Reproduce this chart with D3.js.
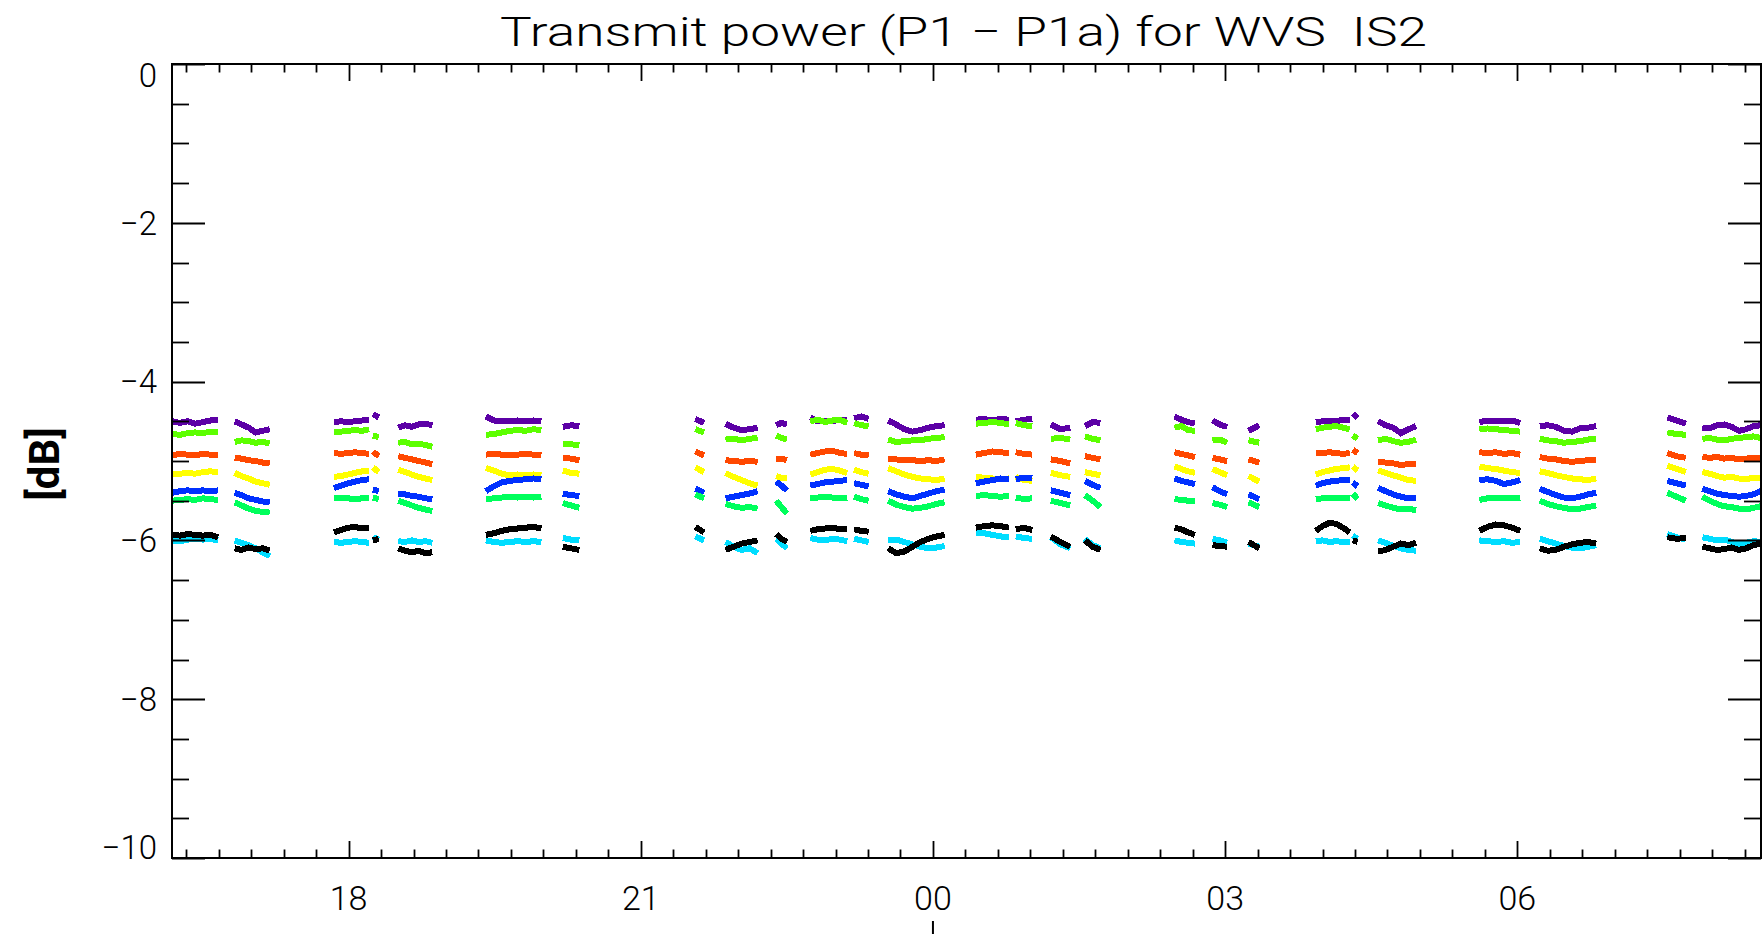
<!DOCTYPE html>
<html>
<head>
<meta charset="utf-8">
<script src="https://cdn.jsdelivr.net/npm/d3@7"></script>
<style>
  html, body { margin: 0; padding: 0; background: #fff; }
  svg { display: block; }
  text { font-family: Roboto, "Liberation Sans", "DejaVu Sans", sans-serif; fill: #000; }
</style>
</head>
<body>
<script>
// Time axis in hours after midnight of the first day (24 = 00 next day)
const timeDomain = [16.187, 32.502];
const majorTicks = [18, 21, 24, 27, 30];
const tickLabels = ["18", "21", "00", "03", "06"];
const yTicks = [0, -2, -4, -6, -8, -10];
const yTickLabels = ["0", "−2", "−4", "−6", "−8", "−10"];
const dayMarks = [24];

// Measurement passes [start, end] in hours
const passes = [
  [16.19, 16.66], [16.83, 17.19], [17.85, 18.21], [18.25, 18.31], [18.51, 18.86],
  [19.41, 19.98], [20.20, 20.37], [21.56, 21.65], [21.87, 22.20], [22.39, 22.50],
  [22.74, 23.12], [23.19, 23.34], [23.54, 24.12], [24.44, 24.78], [24.85, 25.02],
  [25.21, 25.41], [25.56, 25.72], [26.48, 26.69], [26.87, 27.02], [27.24, 27.35],
  [27.93, 28.28], [28.31, 28.36], [28.57, 28.96], [29.61, 30.03], [30.23, 30.81],
  [31.54, 31.73], [31.90, 32.50]
];

// Transmit power differences [dB], one list per pass
const purpleLevels = [
  [-4.50,-4.52,-4.50,-4.53,-4.51,-4.49,-4.48], [-4.50,-4.54,-4.58,-4.64,-4.62,-4.60],
  [-4.51,-4.50,-4.51,-4.50,-4.49,-4.48], [-4.41,-4.45], [-4.58,-4.55,-4.57,-4.54,-4.53,-4.55],
  [-4.44,-4.49,-4.50,-4.50,-4.49,-4.50,-4.49,-4.50], [-4.57,-4.55,-4.56], [-4.47,-4.52],
  [-4.53,-4.58,-4.61,-4.60,-4.58], [-4.55,-4.52,-4.54], [-4.45,-4.50,-4.49,-4.50,-4.48,-4.49],
  [-4.46,-4.44,-4.47], [-4.49,-4.54,-4.60,-4.63,-4.61,-4.58,-4.56,-4.55],
  [-4.48,-4.47,-4.49,-4.47,-4.48], [-4.50,-4.48,-4.47], [-4.54,-4.60,-4.58], [-4.56,-4.51,-4.52],
  [-4.44,-4.48,-4.51,-4.53], [-4.49,-4.54,-4.57], [-4.62,-4.55],
  [-4.51,-4.50,-4.49,-4.50,-4.48,-4.49], [-4.40,-4.46], [-4.50,-4.55,-4.58,-4.65,-4.60,-4.56],
  [-4.51,-4.49,-4.49,-4.50,-4.49,-4.52], [-4.56,-4.55,-4.57,-4.62,-4.63,-4.59,-4.58,-4.56],
  [-4.45,-4.49,-4.53], [-4.58,-4.59,-4.55,-4.54,-4.57,-4.62,-4.60,-4.56,-4.55]
];
const limeLevels = [
  [-4.66,-4.67,-4.65,-4.64,-4.65,-4.63,-4.64], [-4.76,-4.74,-4.75,-4.77,-4.76,-4.78],
  [-4.64,-4.63,-4.62,-4.61,-4.62,-4.60], [-4.68,-4.70], [-4.77,-4.76,-4.79,-4.78,-4.80,-4.82],
  [-4.67,-4.66,-4.64,-4.62,-4.61,-4.62,-4.60,-4.61], [-4.78,-4.79,-4.80], [-4.60,-4.64],
  [-4.73,-4.72,-4.74,-4.72,-4.71], [-4.68,-4.71,-4.73], [-4.50,-4.48,-4.51,-4.49,-4.48,-4.52],
  [-4.52,-4.55,-4.56], [-4.73,-4.76,-4.75,-4.74,-4.74,-4.72,-4.71,-4.70],
  [-4.53,-4.52,-4.51,-4.52,-4.54], [-4.52,-4.55,-4.56], [-4.72,-4.71,-4.73], [-4.69,-4.72,-4.74],
  [-4.58,-4.56,-4.61,-4.62], [-4.74,-4.73,-4.77], [-4.74,-4.77],
  [-4.60,-4.58,-4.57,-4.56,-4.58,-4.60], [-4.68,-4.72], [-4.74,-4.72,-4.75,-4.77,-4.76,-4.73],
  [-4.60,-4.59,-4.60,-4.61,-4.62,-4.63], [-4.72,-4.74,-4.75,-4.77,-4.76,-4.75,-4.73,-4.72],
  [-4.64,-4.66,-4.67], [-4.72,-4.71,-4.73,-4.74,-4.72,-4.71,-4.70,-4.69,-4.71]
];
const orangeLevels = [
  [-4.93,-4.91,-4.92,-4.93,-4.91,-4.92,-4.93], [-4.96,-4.97,-4.99,-5.00,-5.02,-5.03],
  [-4.90,-4.91,-4.90,-4.89,-4.90,-4.91], [-4.88,-4.94], [-4.94,-4.96,-4.98,-5.00,-5.02,-5.04],
  [-4.92,-4.91,-4.92,-4.93,-4.92,-4.91,-4.92,-4.93], [-4.96,-4.97,-4.99], [-4.88,-4.93],
  [-4.99,-5.00,-5.01,-5.00,-5.01], [-4.98,-4.97,-4.99], [-4.92,-4.90,-4.88,-4.87,-4.90,-4.91],
  [-4.90,-4.92,-4.93], [-4.97,-4.98,-4.99,-4.99,-5.00,-4.99,-5.00,-4.98],
  [-4.92,-4.90,-4.88,-4.89,-4.90], [-4.89,-4.91,-4.92], [-4.98,-5.00,-5.03], [-4.94,-4.96,-4.98],
  [-4.89,-4.91,-4.93,-4.95], [-4.96,-4.98,-5.00], [-4.98,-5.02],
  [-4.90,-4.90,-4.89,-4.90,-4.91,-4.90], [-4.86,-4.90], [-5.01,-5.02,-5.03,-5.05,-5.04,-5.04],
  [-4.89,-4.90,-4.89,-4.91,-4.90,-4.92], [-4.95,-4.97,-4.98,-5.00,-5.01,-5.00,-4.99,-4.99],
  [-4.90,-4.94,-4.96], [-4.95,-4.96,-4.95,-4.97,-4.96,-4.98,-4.97,-4.96,-4.97]
];
const yellowLevels = [
  [-5.17,-5.16,-5.15,-5.16,-5.14,-5.13,-5.14], [-5.15,-5.19,-5.22,-5.26,-5.28,-5.30],
  [-5.20,-5.19,-5.17,-5.15,-5.13,-5.12], [-5.08,-5.14], [-5.11,-5.14,-5.17,-5.20,-5.22,-5.24],
  [-5.09,-5.12,-5.16,-5.18,-5.17,-5.18,-5.17,-5.18], [-5.12,-5.15,-5.16], [-5.08,-5.14],
  [-5.15,-5.20,-5.24,-5.28,-5.31], [-5.19,-5.21,-5.22], [-5.17,-5.14,-5.11,-5.10,-5.12,-5.15],
  [-5.11,-5.14,-5.16], [-5.09,-5.13,-5.17,-5.20,-5.22,-5.23,-5.24,-5.22],
  [-5.20,-5.21,-5.22,-5.23,-5.22], [-5.20,-5.24,-5.25], [-5.15,-5.18,-5.20], [-5.14,-5.16,-5.18],
  [-5.07,-5.10,-5.13,-5.15], [-5.10,-5.14,-5.18], [-5.19,-5.26],
  [-5.17,-5.14,-5.12,-5.10,-5.09,-5.08], [-5.07,-5.12], [-5.12,-5.15,-5.18,-5.21,-5.24,-5.25],
  [-5.07,-5.09,-5.10,-5.12,-5.14,-5.15], [-5.13,-5.15,-5.18,-5.20,-5.22,-5.23,-5.24,-5.22],
  [-5.06,-5.10,-5.14], [-5.14,-5.16,-5.19,-5.21,-5.20,-5.22,-5.23,-5.21,-5.22]
];
const blueLevels = [
  [-5.40,-5.38,-5.37,-5.38,-5.37,-5.38,-5.37], [-5.40,-5.43,-5.47,-5.49,-5.51,-5.52],
  [-5.34,-5.31,-5.28,-5.26,-5.24,-5.23], [-5.36,-5.38], [-5.41,-5.42,-5.44,-5.45,-5.47,-5.48],
  [-5.38,-5.32,-5.27,-5.25,-5.24,-5.23,-5.22,-5.23], [-5.41,-5.43,-5.44], [-5.35,-5.40],
  [-5.47,-5.45,-5.43,-5.41,-5.38], [-5.26,-5.31,-5.37], [-5.31,-5.29,-5.27,-5.26,-5.25,-5.24],
  [-5.28,-5.30,-5.32], [-5.38,-5.42,-5.45,-5.47,-5.44,-5.41,-5.38,-5.36],
  [-5.28,-5.26,-5.24,-5.22,-5.23], [-5.23,-5.21,-5.22], [-5.37,-5.40,-5.43], [-5.25,-5.30,-5.34],
  [-5.22,-5.25,-5.27,-5.29], [-5.33,-5.38,-5.42], [-5.42,-5.48],
  [-5.31,-5.28,-5.26,-5.25,-5.24,-5.24], [-5.27,-5.32], [-5.34,-5.38,-5.42,-5.45,-5.47,-5.46],
  [-5.24,-5.23,-5.25,-5.29,-5.27,-5.24], [-5.35,-5.39,-5.43,-5.46,-5.47,-5.45,-5.42,-5.40],
  [-5.25,-5.28,-5.31], [-5.35,-5.38,-5.41,-5.43,-5.44,-5.45,-5.44,-5.42,-5.38]
];
const springLevels = [
  [-5.50,-5.49,-5.48,-5.49,-5.47,-5.48,-5.49], [-5.52,-5.56,-5.60,-5.63,-5.64,-5.65],
  [-5.47,-5.46,-5.47,-5.48,-5.47,-5.46], [-5.46,-5.48], [-5.50,-5.53,-5.56,-5.59,-5.61,-5.63],
  [-5.48,-5.47,-5.46,-5.45,-5.46,-5.45,-5.46,-5.45], [-5.53,-5.56,-5.59], [-5.42,-5.47],
  [-5.54,-5.57,-5.59,-5.58,-5.60], [-5.50,-5.58,-5.66], [-5.47,-5.46,-5.45,-5.46,-5.47,-5.46],
  [-5.45,-5.48,-5.50], [-5.50,-5.55,-5.58,-5.60,-5.59,-5.57,-5.54,-5.52],
  [-5.44,-5.43,-5.44,-5.45,-5.44], [-5.46,-5.48,-5.47], [-5.50,-5.53,-5.56], [-5.43,-5.50,-5.58],
  [-5.48,-5.49,-5.50,-5.51], [-5.53,-5.55,-5.58], [-5.52,-5.58],
  [-5.48,-5.47,-5.46,-5.47,-5.46,-5.47], [-5.41,-5.48], [-5.53,-5.56,-5.59,-5.61,-5.60,-5.62],
  [-5.49,-5.47,-5.46,-5.46,-5.47,-5.46], [-5.50,-5.54,-5.57,-5.59,-5.61,-5.60,-5.58,-5.56],
  [-5.40,-5.45,-5.50], [-5.45,-5.50,-5.54,-5.57,-5.58,-5.60,-5.61,-5.59,-5.57]
];
const cyanLevels = [
  [-6.00,-6.01,-5.99,-5.98,-5.99,-5.98,-6.00], [-6.00,-6.03,-6.06,-6.10,-6.15,-6.20],
  [-6.02,-6.03,-6.02,-6.01,-6.02,-6.03], [-5.96,-5.99], [-6.01,-6.02,-6.00,-6.02,-6.01,-6.03],
  [-6.00,-6.02,-6.03,-6.02,-6.01,-6.02,-6.01,-6.02], [-5.97,-5.99,-6.00], [-5.95,-6.00],
  [-6.02,-6.08,-6.12,-6.10,-6.16], [-5.98,-6.04,-6.10], [-5.97,-5.99,-6.00,-5.98,-5.99,-6.01],
  [-5.98,-6.00,-6.02], [-6.00,-5.99,-6.02,-6.05,-6.08,-6.10,-6.09,-6.07],
  [-5.90,-5.91,-5.93,-5.95,-5.96], [-5.95,-5.97,-5.98], [-5.96,-6.05,-6.10], [-5.98,-6.06,-6.10],
  [-6.00,-6.02,-6.03,-6.04], [-5.98,-6.00,-6.03], [-6.04,-6.08],
  [-6.01,-6.00,-6.02,-6.01,-6.02,-6.02], [-5.94,-5.98], [-6.00,-6.03,-6.07,-6.10,-6.12,-6.13],
  [-6.00,-6.01,-6.02,-6.01,-6.03,-6.02], [-5.98,-6.01,-6.04,-6.07,-6.09,-6.10,-6.08,-6.06],
  [-5.92,-5.96,-5.99], [-5.96,-5.98,-6.00,-5.99,-6.02,-6.04,-6.03,-6.01,-6.02]
];
const blackLevels = [
  [-5.93,-5.94,-5.92,-5.93,-5.94,-5.93,-5.96], [-6.10,-6.12,-6.09,-6.11,-6.10,-6.13],
  [-5.90,-5.87,-5.84,-5.83,-5.85,-5.84], [-6.00,-5.98], [-6.10,-6.13,-6.15,-6.13,-6.16,-6.15],
  [-5.93,-5.91,-5.88,-5.86,-5.85,-5.84,-5.83,-5.85], [-6.08,-6.10,-6.12], [-5.83,-5.90],
  [-6.12,-6.08,-6.04,-6.02,-6.00], [-5.92,-5.98,-6.02], [-5.88,-5.86,-5.85,-5.84,-5.86,-5.85],
  [-5.86,-5.88,-5.89], [-6.10,-6.16,-6.14,-6.08,-6.02,-5.98,-5.95,-5.93],
  [-5.84,-5.82,-5.81,-5.82,-5.84], [-5.86,-5.84,-5.87], [-5.95,-6.02,-6.08], [-6.00,-6.08,-6.12],
  [-5.84,-5.86,-5.90,-5.93], [-6.06,-6.07,-6.08], [-6.02,-6.10],
  [-5.88,-5.82,-5.78,-5.79,-5.84,-5.90], [-6.00,-6.02], [-6.14,-6.12,-6.08,-6.04,-6.06,-6.03],
  [-5.88,-5.83,-5.80,-5.81,-5.84,-5.88], [-6.10,-6.13,-6.12,-6.08,-6.05,-6.03,-6.02,-6.04],
  [-5.96,-5.98,-5.97], [-6.08,-6.10,-6.12,-6.11,-6.09,-6.12,-6.10,-6.06,-6.04]
];

const seriesLevels = [purpleLevels, limeLevels, orangeLevels, yellowLevels,
                      blueLevels, springLevels, cyanLevels, blackLevels];
const seriesColors = ["#5c00a6", "#5cff00", "#ff4800", "#ffff00",
                      "#0030ff", "#00ff5c", "#00ddff", "#000000"];

const W = 1764, H = 934;
const plot = { left: 172, right: 1761, top: 64, bottom: 858 };

const svg = d3.select("body").append("svg")
  .attr("width", W).attr("height", H)
  .attr("viewBox", `0 0 ${W} ${H}`);

const x = d3.scaleLinear().domain(timeDomain).range([plot.left, plot.right]);
const y = d3.scaleLinear().domain([-10, 0]).range([plot.bottom, plot.top]);

svg.append("clipPath").attr("id", "plot-clip")
  .append("rect")
  .attr("x", plot.left).attr("y", plot.top)
  .attr("width", plot.right - plot.left).attr("height", plot.bottom - plot.top);

// Data traces: each pass drawn as its own line so gaps stay open
const line = d3.line().x(d => x(d[0])).y(d => y(d[1]));
const traces = svg.append("g").attr("clip-path", "url(#plot-clip)");
seriesLevels.forEach((levels, si) => {
  const g = traces.append("g")
    .attr("fill", "none")
    .attr("stroke", seriesColors[si])
    .attr("stroke-width", 6)
    .attr("stroke-linejoin", "miter")
    .attr("shape-rendering", "crispEdges");
  levels.forEach((vals, pi) => {
    const [t0, t1] = passes[pi];
    const pts = vals.map((v, j) => [t0 + (t1 - t0) * j / (vals.length - 1), v]);
    g.append("path").attr("d", line(pts));
  });
});

// Frame
svg.append("rect")
  .attr("x", plot.left).attr("y", plot.top)
  .attr("width", plot.right - plot.left).attr("height", plot.bottom - plot.top)
  .attr("fill", "none").attr("stroke", "#000").attr("stroke-width", 2);

// Ticks on all four sides, pointing inward
const ticks = svg.append("g").attr("stroke", "#000").attr("stroke-width", 1.8);
const xMinor = d3.range(Math.ceil(timeDomain[0] * 3), Math.floor(timeDomain[1] * 3) + 1).map(k => k / 3);
xMinor.forEach(t => {
  const major = majorTicks.some(m => Math.abs(m - t) < 1e-6);
  const len = major ? 17 : 8.5;
  const px = Math.round(x(t)) + 0.5;
  ticks.append("line").attr("x1", px).attr("x2", px).attr("y1", plot.bottom).attr("y2", plot.bottom - len);
  ticks.append("line").attr("x1", px).attr("x2", px).attr("y1", plot.top).attr("y2", plot.top + len);
});
const yMinor = d3.range(0, 21).map(k => -k / 2);
yMinor.forEach(v => {
  const major = yTicks.includes(v);
  const len = major ? 33 : 17;
  const py = Math.round(y(v)) + 0.5;
  ticks.append("line").attr("x1", plot.left).attr("x2", plot.left + len).attr("y1", py).attr("y2", py);
  ticks.append("line").attr("x1", plot.right).attr("x2", plot.right - len).attr("y1", py).attr("y2", py);
});

// Day boundary marker under the time axis
dayMarks.forEach(t => {
  svg.append("line")
    .attr("x1", x(t)).attr("x2", x(t)).attr("y1", 921).attr("y2", 934)
    .attr("stroke", "#000").attr("stroke-width", 2);
});

// Time labels
svg.append("g").selectAll("text").data(majorTicks).join("text")
  .attr("x", d => x(d)).attr("y", 910)
  .attr("text-anchor", "middle")
  .attr("font-size", 34)
  .attr("font-weight", 300)
  .text((d, i) => tickLabels[i]);

// dB labels (end labels kept inside the axis span)
svg.append("g").selectAll("text").data(yTicks).join("text")
  .attr("x", 157)
  .attr("y", d => {
    const py = y(d);
    if (d === 0) return py + 11;
    if (d === -10) return py - 11;
    return py;
  })
  .attr("dy", "0.36em")
  .attr("text-anchor", "end")
  .attr("font-size", 33)
  .attr("font-weight", 300)
  .text((d, i) => yTickLabels[i]);

// Axis title
svg.append("text")
  .attr("transform", `translate(44, ${(plot.top + plot.bottom) / 2 + 3}) rotate(-90)`)
  .attr("text-anchor", "middle")
  .attr("dy", "0.36em")
  .attr("font-size", 42)
  .attr("font-weight", "bold")
  .text("[dB]");

// Chart title
svg.append("text")
  .attr("x", 500).attr("y", 46)
  .attr("font-size", 41)
  .attr("font-weight", 300)
  .attr("textLength", 927)
  .attr("lengthAdjust", "spacingAndGlyphs")
  .style("white-space", "pre")
  .text("Transmit power (P1 − P1a) for WVS  IS2");
</script>
</body>
</html>
